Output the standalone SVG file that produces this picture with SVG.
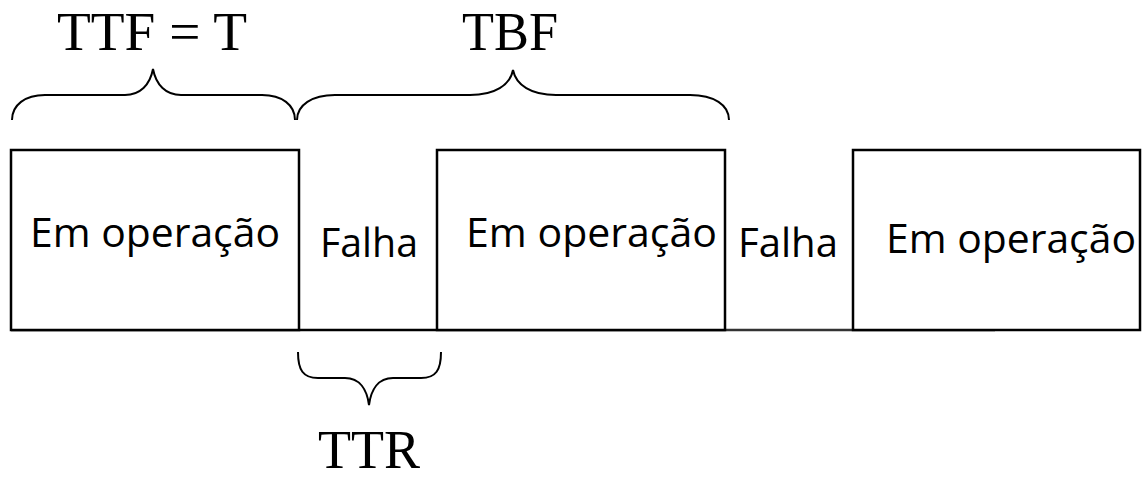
<svg xmlns="http://www.w3.org/2000/svg" width="1143" height="486" viewBox="0 0 1143 486">
<style>
.box{fill:#fff;stroke:#000;stroke-width:2.5}
.line{stroke:#000;stroke-width:2.5;fill:none}
.brace{stroke:#000;stroke-width:2;fill:none}
.sans{font-family:"Open Sans","Liberation Sans",sans-serif;font-size:41px;fill:#000}
.serif{font-family:"Liberation Serif","Times New Roman",serif;font-size:54px;fill:#000}
</style>
<rect width="1143" height="486" fill="#fff"/>
<g id="connectors">
<line class="line" x1="11" y1="330" x2="725" y2="330"/>
<line x1="725" y1="330" x2="995" y2="330" stroke="#333" stroke-width="2.5"/>
</g>
<g id="op1">
<rect class="box" x="11" y="150" width="288" height="180"/>
<text class="sans" x="30" y="247" textLength="250" lengthAdjust="spacingAndGlyphs">Em operação</text>
</g>
<g id="falha1">
<text class="sans" x="320" y="257" textLength="98" lengthAdjust="spacingAndGlyphs">Falha</text>
</g>
<g id="op2">
<rect class="box" x="437" y="150" width="288" height="180"/>
<text class="sans" x="466" y="247" textLength="251" lengthAdjust="spacingAndGlyphs">Em operação</text>
</g>
<g id="falha2">
<text class="sans" x="738" y="257" textLength="100" lengthAdjust="spacingAndGlyphs">Falha</text>
</g>
<g id="op3">
<rect class="box" x="853" y="150" width="287" height="180"/>
<text class="sans" x="886" y="253" textLength="250" lengthAdjust="spacingAndGlyphs">Em operação</text>
</g>
<g id="ttf">
<path class="brace" d="M12,120 C12,105 25,95 45,95 L125,95 C140,95 150,85 153,69 C156,85 166,95 181,95 L262,95 C282,95 295,105 295,120"/>
<text class="serif" x="57" y="50" textLength="190" lengthAdjust="spacingAndGlyphs">TTF = T</text>
</g>
<g id="tbf">
<path class="brace" d="M297,120 C297,105 312,95 335,95 L470,95 C495,95 510,85 513,70 C516,85 531,95 556,95 L690,95 C714,95 729,105 729,120"/>
<text class="serif" x="462" y="50" textLength="96" lengthAdjust="spacingAndGlyphs">TBF</text>
</g>
<g id="ttr">
<path class="brace" d="M298,352 C298,370 303,378 318,378 L345,378 C360,378 367,390 369,405 C371,390 378,378 393,378 L421,378 C436,378 441,370 441,352"/>
<text class="serif" x="318" y="468" textLength="102" lengthAdjust="spacingAndGlyphs">TTR</text>
</g>
</svg>
